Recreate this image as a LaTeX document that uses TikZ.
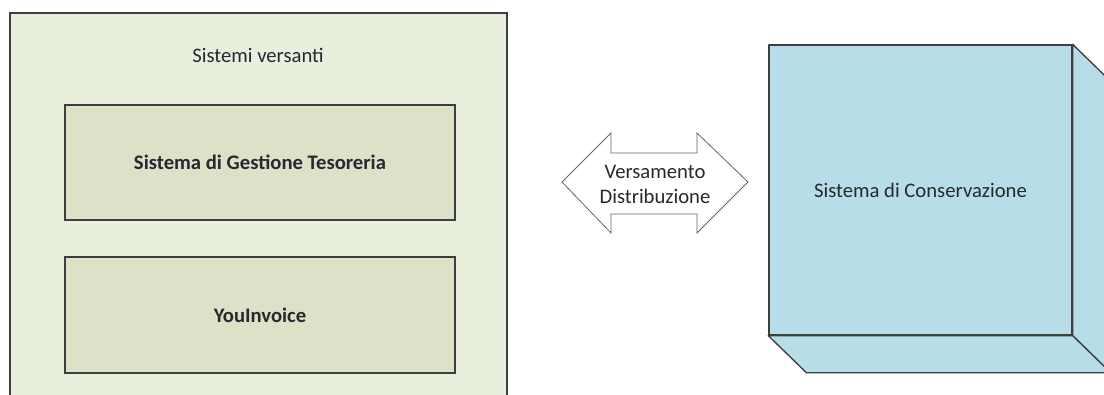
\documentclass[tikz,border=0pt]{standalone}
\usepackage{fontspec}
\setmainfont{Carlito}
\usetikzlibrary{positioning,calc}
\definecolor{framegreen}{RGB}{233,239,221}
\definecolor{boxolive}{RGB}{221,225,200}
\definecolor{cubeblue}{RGB}{183,221,232}
\definecolor{edgegray}{RGB}{62,62,62}
\definecolor{textgray}{RGB}{40,40,48}

\tikzset{
  sysbox/.style={draw=edgegray, line width=1pt, fill=boxolive, rectangle,
    font=\fontsize{15.5}{18.5}\selectfont\bfseries, text=textgray},
  framebox/.style={draw=edgegray, line width=1pt, fill=framegreen, rectangle},
  cubeface/.style={draw=edgegray, line width=1pt, fill=cubeblue, line join=round},
  plainlabel/.style={font=\fontsize{15.5}{18.7}\selectfont, text=textgray, align=center}
}

\begin{document}
\begin{tikzpicture}[x=0.75pt, y=-0.75pt]

% ── Canvas (pixel grid of the reference, y pointing down) ───────────────────
\useasboundingbox (0,0) rectangle (1104,394);
\clip (0,0) rectangle (1104,394);
\fill[white] (0,0) rectangle (1104,394);

% ════════════════════════════════════════════════════════════════════════════
% LEFT — Sistemi versanti
% ════════════════════════════════════════════════════════════════════════════
\node[framebox, minimum width=372.75pt, minimum height=305.25pt] (versanti)
  at (258.5,216.5) {};
\node[plainlabel] (versantilbl) at (258,55) {Sistemi versanti};

\node[sysbox, minimum width=292.5pt, minimum height=86.25pt] (tesoreria)
  at (260,162.5) {Sistema di Gestione Tesoreria};
\node[sysbox, minimum width=292.5pt, minimum height=87pt] (youinvoice)
  at (260,315) {YouInvoice};

% ════════════════════════════════════════════════════════════════════════════
% CENTRE — double arrow
% ════════════════════════════════════════════════════════════════════════════
\draw[draw=edgegray!80, line width=0.6pt, fill=white, line join=miter]
  (562,182) -- (611,133) -- (611,153) -- (697,153) -- (697,133) -- (748,182)
  -- (697,233) -- (697,214) -- (611,214) -- (611,233) -- cycle;
\node[plainlabel, inner sep=0pt] (flusso) at (655,184)
  {Versamento\\Distribuzione};

% ════════════════════════════════════════════════════════════════════════════
% RIGHT — Sistema di Conservazione (cube)
% ════════════════════════════════════════════════════════════════════════════
\node[cubeface, plainlabel, rectangle, minimum width=227.25pt,
      minimum height=217.5pt, inner sep=0pt] (conservazione)
  at (920.5,190) {Sistema di Conservazione};
% side faces
\draw[cubeface] (conservazione.north east) -- ++(38,37)
  -- ($(conservazione.south east)+(38,37)$) -- (conservazione.south east) -- cycle;
\draw[cubeface] (conservazione.south west) -- ++(38,37)
  -- ($(conservazione.south east)+(38,37)$) -- (conservazione.south east) -- cycle;

\end{tikzpicture}
\end{document}
